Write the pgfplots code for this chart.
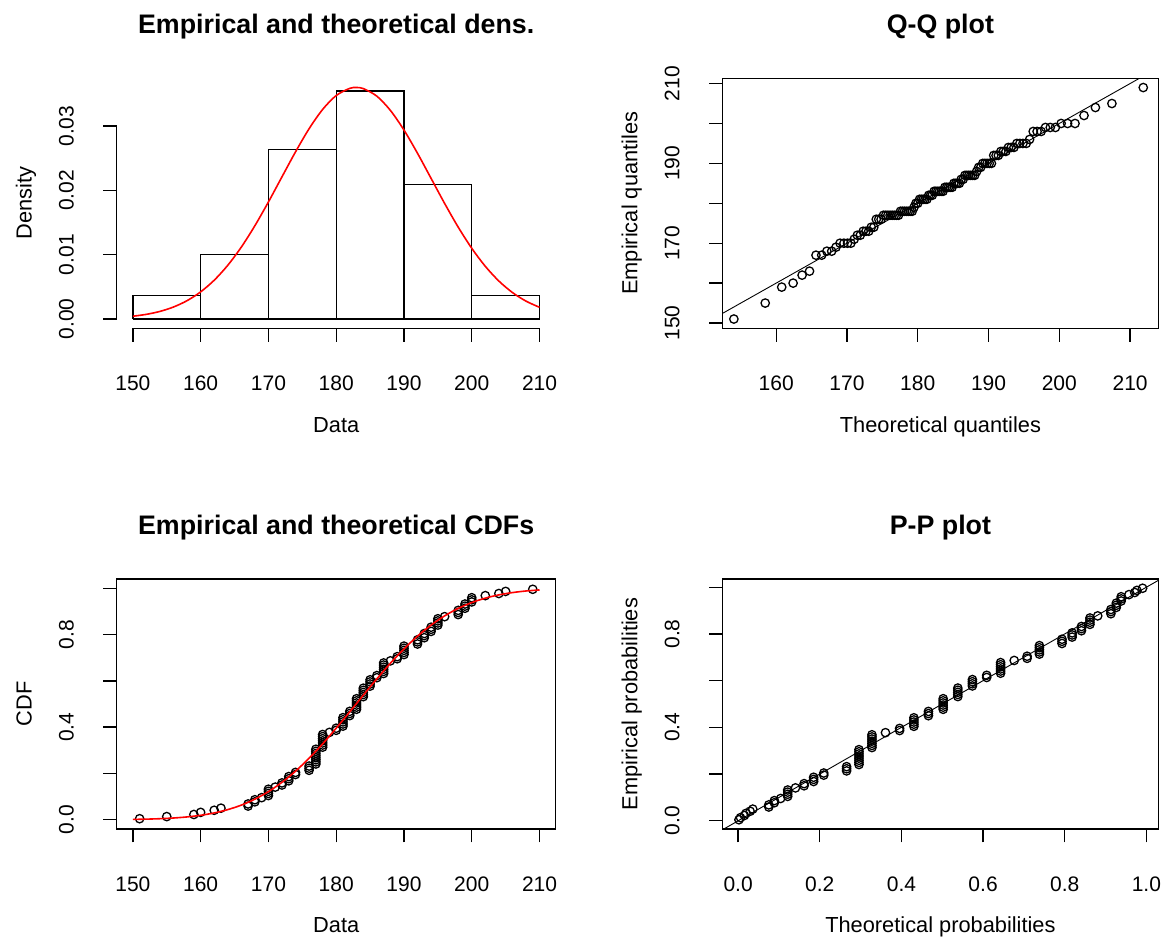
\documentclass[border=0pt]{standalone}
\usepackage{fontspec}
\setmainfont{Liberation Sans}
\usepackage{pgfplots}
\usepackage{pgfplotstable}
\pgfplotsset{compat=1.18}

% sorted sample (x), theoretical quantile (q), empirical prob (p), theoretical prob (t)
\pgfplotstableread{
x q p t
151 154.02 0.0045 0.0020
155 158.45 0.0136 0.0058
159 160.78 0.0227 0.0154
160 162.39 0.0318 0.0192
162 163.66 0.0409 0.0294
163 164.71 0.0500 0.0359
167 165.62 0.0591 0.0751
167 166.43 0.0682 0.0751
168 167.16 0.0773 0.0887
168 167.84 0.0864 0.0887
169 168.45 0.0955 0.1042
170 169.02 0.1045 0.1214
170 169.57 0.1136 0.1214
170 170.08 0.1227 0.1214
170 170.55 0.1318 0.1214
171 171.02 0.1409 0.1405
172 171.46 0.1500 0.1616
172 171.88 0.1591 0.1616
173 172.29 0.1682 0.1849
173 172.68 0.1773 0.1849
173 173.07 0.1864 0.1849
174 173.43 0.1955 0.2098
174 173.79 0.2045 0.2098
176 174.14 0.2136 0.2657
176 174.49 0.2227 0.2657
176 174.82 0.2318 0.2657
177 175.15 0.2409 0.2960
177 175.47 0.2500 0.2960
177 175.78 0.2591 0.2960
177 176.09 0.2682 0.2960
177 176.39 0.2773 0.2960
177 176.69 0.2864 0.2960
177 176.99 0.2955 0.2960
177 177.28 0.3045 0.2960
178 177.56 0.3136 0.3278
178 177.84 0.3227 0.3278
178 178.12 0.3318 0.3278
178 178.40 0.3409 0.3278
178 178.67 0.3500 0.3278
178 178.94 0.3591 0.3278
178 179.21 0.3682 0.3278
179 179.47 0.3773 0.3609
180 179.74 0.3864 0.3955
180 180.00 0.3955 0.3955
181 180.26 0.4045 0.4305
181 180.52 0.4136 0.4305
181 180.78 0.4227 0.4305
181 181.03 0.4318 0.4305
181 181.29 0.4409 0.4305
182 181.54 0.4500 0.4661
182 181.80 0.4591 0.4661
182 182.05 0.4682 0.4661
183 182.31 0.4773 0.5022
183 182.56 0.4864 0.5022
183 182.82 0.4955 0.5022
183 183.06 0.5045 0.5022
183 183.32 0.5136 0.5022
183 183.57 0.5227 0.5022
184 183.83 0.5318 0.5381
184 184.08 0.5409 0.5381
184 184.34 0.5500 0.5381
184 184.59 0.5591 0.5381
184 184.85 0.5682 0.5381
185 185.10 0.5773 0.5738
185 185.36 0.5864 0.5738
185 185.62 0.5955 0.5738
185 185.88 0.6045 0.5738
186 186.14 0.6136 0.6088
186 186.41 0.6227 0.6088
187 186.67 0.6318 0.6429
187 186.94 0.6409 0.6429
187 187.21 0.6500 0.6429
187 187.48 0.6591 0.6429
187 187.76 0.6682 0.6429
187 188.04 0.6773 0.6429
188 188.32 0.6864 0.6762
189 188.60 0.6955 0.7078
189 188.89 0.7045 0.7078
190 189.19 0.7136 0.7379
190 189.49 0.7227 0.7379
190 189.79 0.7318 0.7379
190 190.10 0.7409 0.7379
190 190.41 0.7500 0.7379
192 190.73 0.7591 0.7933
192 191.06 0.7682 0.7933
192 191.39 0.7773 0.7933
193 191.74 0.7864 0.8181
193 192.09 0.7955 0.8181
193 192.45 0.8045 0.8181
194 192.81 0.8136 0.8409
194 193.20 0.8227 0.8409
194 193.59 0.8318 0.8409
195 194.00 0.8409 0.8617
195 194.42 0.8500 0.8617
195 194.86 0.8591 0.8617
195 195.33 0.8682 0.8617
196 195.80 0.8773 0.8808
198 196.31 0.8864 0.9130
198 196.86 0.8955 0.9130
198 197.43 0.9045 0.9130
199 198.04 0.9136 0.9263
199 198.72 0.9227 0.9263
199 199.45 0.9318 0.9263
200 200.26 0.9409 0.9382
200 201.17 0.9500 0.9382
200 202.22 0.9591 0.9382
202 203.49 0.9682 0.9573
204 205.10 0.9773 0.9714
205 207.43 0.9864 0.9768
209 211.86 0.9955 0.9907
}\obs

% histogram outline (bin edges, densities, n = 110, width 10)
\pgfplotstableread{
x h
150 0
150 0.003636
160 0.003636
160 0
160 0.010000
170 0.010000
170 0
170 0.026364
180 0.026364
180 0
180 0.035455
190 0.035455
190 0
190 0.020909
200 0.020909
200 0
200 0.003636
210 0.003636
210 0
150 0
}\hist

% fitted normal density
\pgfplotstableread{
x d
150 0.000434
152 0.000730
154 0.001188
156 0.001873
158 0.002858
160 0.004220
162 0.006035
164 0.008353
166 0.011187
168 0.014507
170 0.018205
172 0.022115
174 0.026000
176 0.029594
178 0.032600
180 0.034760
182 0.035876
183 0.036006
184 0.035842
186 0.034660
188 0.032442
190 0.029392
192 0.025773
194 0.021877
196 0.017974
198 0.014294
200 0.011004
202 0.008199
204 0.005912
206 0.004126
208 0.002788
210 0.001824
}\dens

% fitted normal CDF
\pgfplotstableread{
x F
150 0.00147
152 0.00262
154 0.00450
156 0.00753
158 0.01219
160 0.01922
162 0.02938
164 0.04373
166 0.06314
168 0.08883
170 0.12140
172 0.16180
174 0.20980
176 0.26570
178 0.32780
180 0.39550
182 0.46610
184 0.53820
186 0.60870
188 0.67620
190 0.73790
192 0.79330
194 0.84090
196 0.88080
198 0.91300
200 0.93820
202 0.95730
204 0.97140
206 0.98130
208 0.98820
210 0.99270
}\cdf

\pgfplotsset{
  rpanel/.style={
    scale only axis,
    clip mode=individual,
    anchor=south west,
    axis line style={line width=0.65pt},
    every tick/.style={line width=0.65pt, black},
    tick align=outside,
    major tick length=6.7pt,
    xtick pos=left, ytick pos=left,
    scaled x ticks=false, scaled y ticks=false,
    tick label style={font=\fontsize{10.5}{12}\selectfont},
    xticklabel style={anchor=base, yshift=-24.5pt},
    yticklabel style={xshift=-14.8pt, rotate=90, anchor=base},
  },
  pts/.style={only marks, mark=o, mark size=2.1pt, mark options={line width=0.65pt, black}},
}
\newcommand{\ttl}[1]{\node[font=\fontsize{13.4}{16}\selectfont\bfseries, anchor=base] at ([yshift=22.15pt]rel axis cs:0.5,1) {#1};}
\newcommand{\xlab}[1]{\node[font=\fontsize{10.9}{13}\selectfont, anchor=base] at ([yshift=-51.9pt]rel axis cs:0.5,0) {#1};}
\newcommand{\ylab}[1]{\node[font=\fontsize{10.9}{13}\selectfont, anchor=base, rotate=90] at ([xshift=-42.5pt]rel axis cs:0,0.5) {#1};}

\begin{document}
\begin{tikzpicture}
\useasboundingbox (0,0) rectangle (584pt,469pt);

% histogram with density (R style: detached axes, no box)
\begin{axis}[rpanel, at={(58.3pt,304.85pt)}, width=219.6pt, height=125pt,
  clip=false,
  xmin=147.6, xmax=212.4, ymin=-0.00144, ymax=0.03744,
  axis line style={draw=none},
  xtick={150,160,...,210}, xticklabels={150,160,170,180,190,200,210},
  ytick={0,0.01,0.02,0.03}, yticklabels={0.00,0.01,0.02,0.03}]
  \addplot[black, line width=0.65pt] table[x=x, y=h] {\hist};
  \addplot[red, line width=0.8pt, smooth] table[x=x, y=d] {\dens};
  \addplot[black, line width=0.65pt] coordinates {(150,-0.00144) (210,-0.00144)};
  \addplot[black, line width=0.65pt] coordinates {(147.6,0) (147.6,0.03)};
  \ttl{Empirical and theoretical dens.}
  \xlab{Data}
  \ylab{Density}
\end{axis}

% Q-Q plot
\begin{axis}[rpanel, at={(361.2pt,304.85pt)}, width=218pt, height=125pt,
  xmin=152.4, xmax=214.0, ymin=148.68, ymax=211.32,
  xtick={160,170,...,210}, xticklabels={160,170,180,190,200,210},
  ytick={150,160,...,210}, yticklabels={150,,170,,190,,210}]
  \addplot[pts] table[x=q, y=x] {\obs};
  \addplot[black, line width=0.45pt] coordinates {(140,140) (220,220)};
  \ttl{Q-Q plot}
  \xlab{Theoretical quantiles}
  \ylab{Empirical quantiles}
\end{axis}

% empirical and theoretical CDF
\begin{axis}[rpanel, at={(58.3pt,54.5pt)}, width=219.6pt, height=125pt,
  xmin=147.6, xmax=212.4, ymin=-0.04, ymax=1.04,
  xtick={150,160,...,210}, xticklabels={150,160,170,180,190,200,210},
  ytick={0,0.2,0.4,0.6,0.8,1.0}, yticklabels={0.0,,0.4,,0.8,}]
  \addplot[pts] table[x=x, y=p] {\obs};
  \addplot[red, line width=0.8pt, smooth] table[x=x, y=F] {\cdf};
  \ttl{Empirical and theoretical CDFs}
  \xlab{Data}
  \ylab{CDF}
\end{axis}

% P-P plot
\begin{axis}[rpanel, at={(361.2pt,54.5pt)}, width=218pt, height=125pt,
  xmin=-0.0385, xmax=1.0294, ymin=-0.0351, ymax=1.0351,
  xtick={0,0.2,0.4,0.6,0.8,1.0}, xticklabels={0.0,0.2,0.4,0.6,0.8,1.0},
  ytick={0,0.2,0.4,0.6,0.8,1.0}, yticklabels={0.0,,0.4,,0.8,}]
  \addplot[pts] table[x=t, y=p] {\obs};
  \addplot[black, line width=0.45pt] coordinates {(-0.1,-0.1) (1.1,1.1)};
  \ttl{P-P plot}
  \xlab{Theoretical probabilities}
  \ylab{Empirical probabilities}
\end{axis}
\end{tikzpicture}
\end{document}
